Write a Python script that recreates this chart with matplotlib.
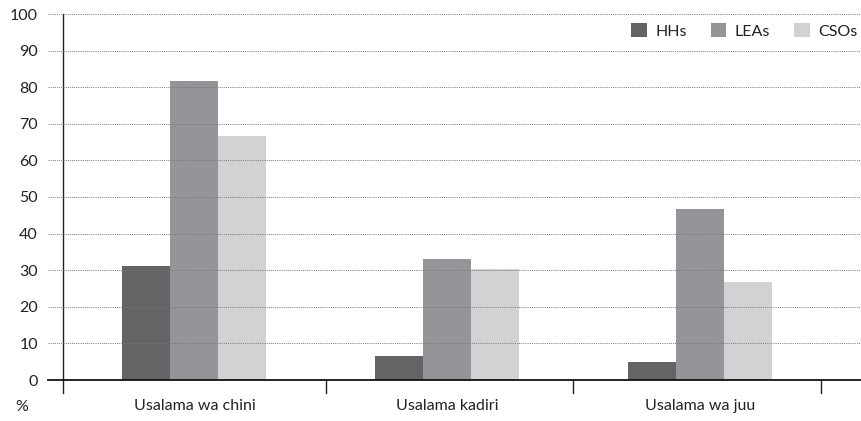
import numpy as np
import matplotlib.pyplot as plt
from matplotlib.lines import Line2D
import matplotlib.transforms as mtransforms

plt.rcParams['font.family'] = ['Lato', 'DejaVu Sans']

# data
categories = ['Usalama wa chini', 'Usalama kadiri', 'Usalama wa juu']
series = ['HHs', 'LEAs', 'CSOs']
hhs = [31.1, 6.6, 4.9]
leas = [81.7, 33.1, 46.7]
csos = [66.7, 30.3, 26.8]
colors = ['#636466', '#939598', '#d1d2d4']

fig = plt.figure(figsize=(8.61, 4.21), dpi=100)
ax = fig.add_axes([63/861, 1-380/421, (821-63)/861, (380-14)/421])

x = np.arange(len(categories))
w = 0.19
for i, (vals, c, lab) in enumerate(zip([hhs, leas, csos], colors, series)):
    ax.bar(x + (i - 1) * w, vals, w, color=c, label=lab, zorder=3)

ax.set_xlim(-0.52, 2.48)
ax.set_ylim(0, 100)
ax.set_yticks(np.arange(0, 101, 10))
ax.set_xticks(x)
ax.set_xticklabels(categories, fontsize=11.5, color='#222222')
ax.tick_params(axis='x', length=0, pad=14)
ax.tick_params(axis='y', length=0, pad=18, labelsize=11.5, labelcolor='#222222')

# gridlines running past the axes on both sides
trans = mtransforms.blended_transform_factory(fig.transFigure, ax.transData)
for yv in range(10, 101, 10):
    fig.add_artist(Line2D([48/861, 1.0], [yv, yv], transform=trans,
                          color='#777777', lw=0.7, ls=(0, (1, 1.2)), zorder=1))
# baseline
fig.add_artist(Line2D([48/861, 1.0], [0, 0], transform=trans,
                      color='#111111', lw=1.3, zorder=4))

for s in ['top', 'right', 'bottom']:
    ax.spines[s].set_visible(False)
ax.spines['left'].set_color('#222222')
ax.spines['left'].set_linewidth(1.0)
ax.spines['left'].set_bounds(-3.5, 100)
ax.spines['left'].set_zorder(4)

# category separator ticks below the baseline
for xv in [0.52, 1.5, 2.48]:
    ax.plot([xv, xv], [0, -3.5], color='#222222', lw=1.0, clip_on=False, zorder=4)

fig.text(15/861, 1-407/421, '%', fontsize=11.5, color='#222222', va='center')

leg = fig.legend(loc='center right', bbox_to_anchor=(857/861, 1-31/421), ncol=3,
                 frameon=False, fontsize=11.5, handlelength=1.0, handleheight=1.0,
                 columnspacing=1.5, handletextpad=0.5, borderpad=0,
                 borderaxespad=0)
for t in leg.get_texts():
    t.set_color('#222222')

fig.savefig('out.png', dpi=100)
